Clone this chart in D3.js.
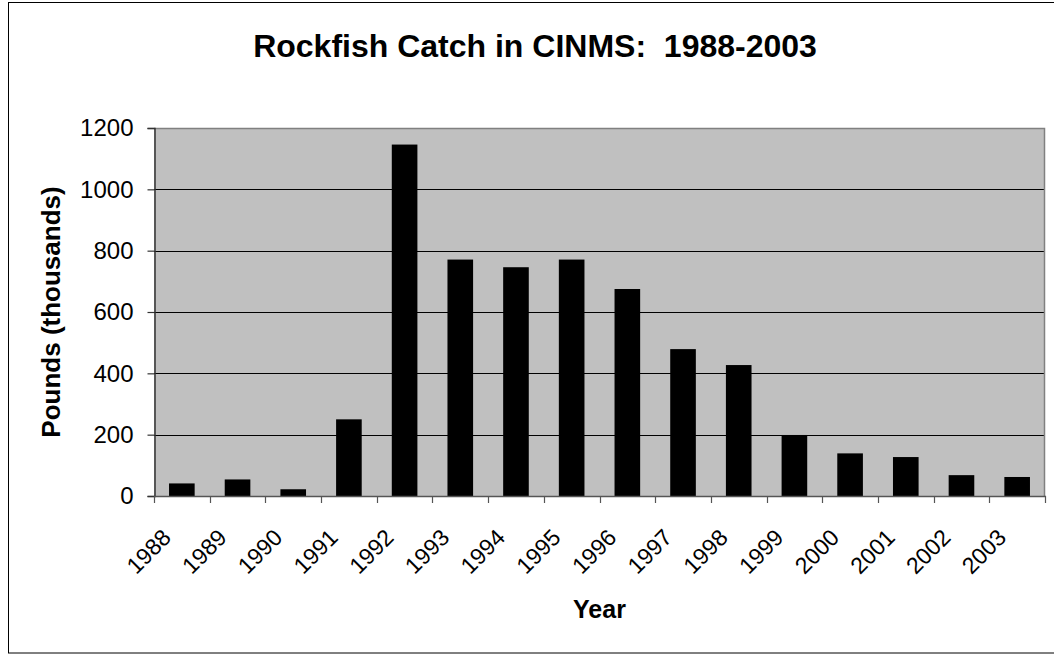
<!DOCTYPE html>
<html>
<head>
<meta charset="utf-8">
<script src="https://cdn.jsdelivr.net/npm/d3@7"></script>
<style>
  html, body { margin: 0; padding: 0; background: #ffffff; }
  svg { display: block; }
  text { font-family: "Liberation Sans", Arial, sans-serif; fill: #000; white-space: pre; }
</style>
</head>
<body>
<svg id="chart" width="1054" height="656"></svg>
<script>
// Rockfish catch (thousands of pounds) by year
const years = ["1988","1989","1990","1991","1992","1993","1994","1995",
               "1996","1997","1998","1999","2000","2001","2002","2003"];
const catchThousands = [41, 54, 22, 250, 1146, 771, 746, 771,
                        675, 479, 427, 199, 139, 127, 68, 62];
const yTicks = [0, 200, 400, 600, 800, 1000, 1200];

const chartTitle = "Rockfish Catch in CINMS:  1988-2003";
const xTitle = "Year";
const yTitle = "Pounds (thousands)";

const svg = d3.select("#chart");

// chart frame
svg.append("rect")
  .attr("x", 8.5).attr("y", 2.5)
  .attr("width", 1060).attr("height", 650.5)
  .attr("fill", "#fff").attr("stroke", "#000").attr("stroke-width", 1);

const plot = { left: 154, right: 1045, top: 128, bottom: 496 };

const x = d3.scaleBand()
  .domain(years)
  .range([plot.left, plot.right])
  .paddingInner(0.54)
  .paddingOuter(0.27);

const y = d3.scaleLinear()
  .domain([0, 1200])
  .range([plot.bottom, plot.top]);

// plot background
svg.append("rect")
  .attr("x", plot.left).attr("y", plot.top)
  .attr("width", plot.right - plot.left)
  .attr("height", plot.bottom - plot.top)
  .attr("fill", "#c0c0c0");

// horizontal gridlines
svg.append("g")
  .selectAll("line")
  .data(yTicks.filter(t => t > 0 && t < 1200))
  .join("line")
  .attr("x1", plot.left).attr("x2", plot.right)
  .attr("y1", d => Math.round(y(d)) + 0.5)
  .attr("y2", d => Math.round(y(d)) + 0.5)
  .attr("stroke", "#000").attr("stroke-width", 1);

// plot border (top and right)
svg.append("path")
  .attr("d", `M${plot.left},${plot.top + 0.5}H${plot.right - 0.5}V${plot.bottom}`)
  .attr("fill", "none").attr("stroke", "#808080").attr("stroke-width", 1.5);

// bars
svg.append("g")
  .selectAll("rect")
  .data(years.map((yr, i) => ({ yr, v: catchThousands[i] })))
  .join("rect")
  .attr("x", d => x(d.yr))
  .attr("width", x.bandwidth())
  .attr("y", d => y(d.v))
  .attr("height", d => y(0) - y(d.v))
  .attr("fill", "#000");

// y axis
const yAxis = d3.axisLeft(y)
  .tickValues(yTicks)
  .tickSize(7)
  .tickPadding(14)
  .tickFormat(d3.format("d"));

const gy = svg.append("g")
  .attr("transform", `translate(${plot.left + 0.5},0)`)
  .call(yAxis);
gy.select(".domain").attr("stroke", "#333").attr("stroke-width", 1.5);
gy.selectAll(".tick line").attr("stroke", "#333").attr("stroke-width", 1.2);
gy.selectAll(".tick text")
  .attr("font-size", 24)
  .attr("font-family", "Liberation Sans, Arial, sans-serif")
  .attr("fill", "#000");

// x axis line with ticks on category boundaries
const step = x.step();
const boundaries = years.map(yr => x(yr) + x.bandwidth() / 2 - step / 2)
  .concat([x(years[years.length - 1]) + x.bandwidth() / 2 + step / 2]);

const gx = svg.append("g");
gx.append("line")
  .attr("x1", plot.left).attr("x2", plot.right + 1)
  .attr("y1", plot.bottom + 0.5).attr("y2", plot.bottom + 0.5)
  .attr("stroke", "#555").attr("stroke-width", 1.5);
gx.selectAll("line.tk")
  .data(boundaries)
  .join("line")
  .attr("class", "tk")
  .attr("x1", d => Math.round(d) + 0.5).attr("x2", d => Math.round(d) + 0.5)
  .attr("y1", plot.bottom).attr("y2", plot.bottom + 7)
  .attr("stroke", "#555").attr("stroke-width", 1.2);

// rotated year labels
gx.selectAll("text")
  .data(years)
  .join("text")
  .attr("transform", d => `translate(${x(d) + x.bandwidth() / 2 - 9.5},539) rotate(-45)`)
  .attr("text-anchor", "end")
  .attr("font-size", 23)
  .text(d => d);

// titles
svg.append("text")
  .attr("x", 535).attr("y", 57)
  .attr("text-anchor", "middle")
  .attr("font-size", 32).attr("font-weight", "bold")
  .text(chartTitle);

svg.append("text")
  .attr("x", (plot.left + plot.right) / 2).attr("y", 618)
  .attr("text-anchor", "middle")
  .attr("font-size", 25).attr("font-weight", "bold")
  .text(xTitle);

svg.append("text")
  .attr("transform", `translate(60,${(plot.top + plot.bottom) / 2}) rotate(-90)`)
  .attr("text-anchor", "middle")
  .attr("font-size", 26).attr("font-weight", "bold")
  .text(yTitle);
</script>
</body>
</html>
